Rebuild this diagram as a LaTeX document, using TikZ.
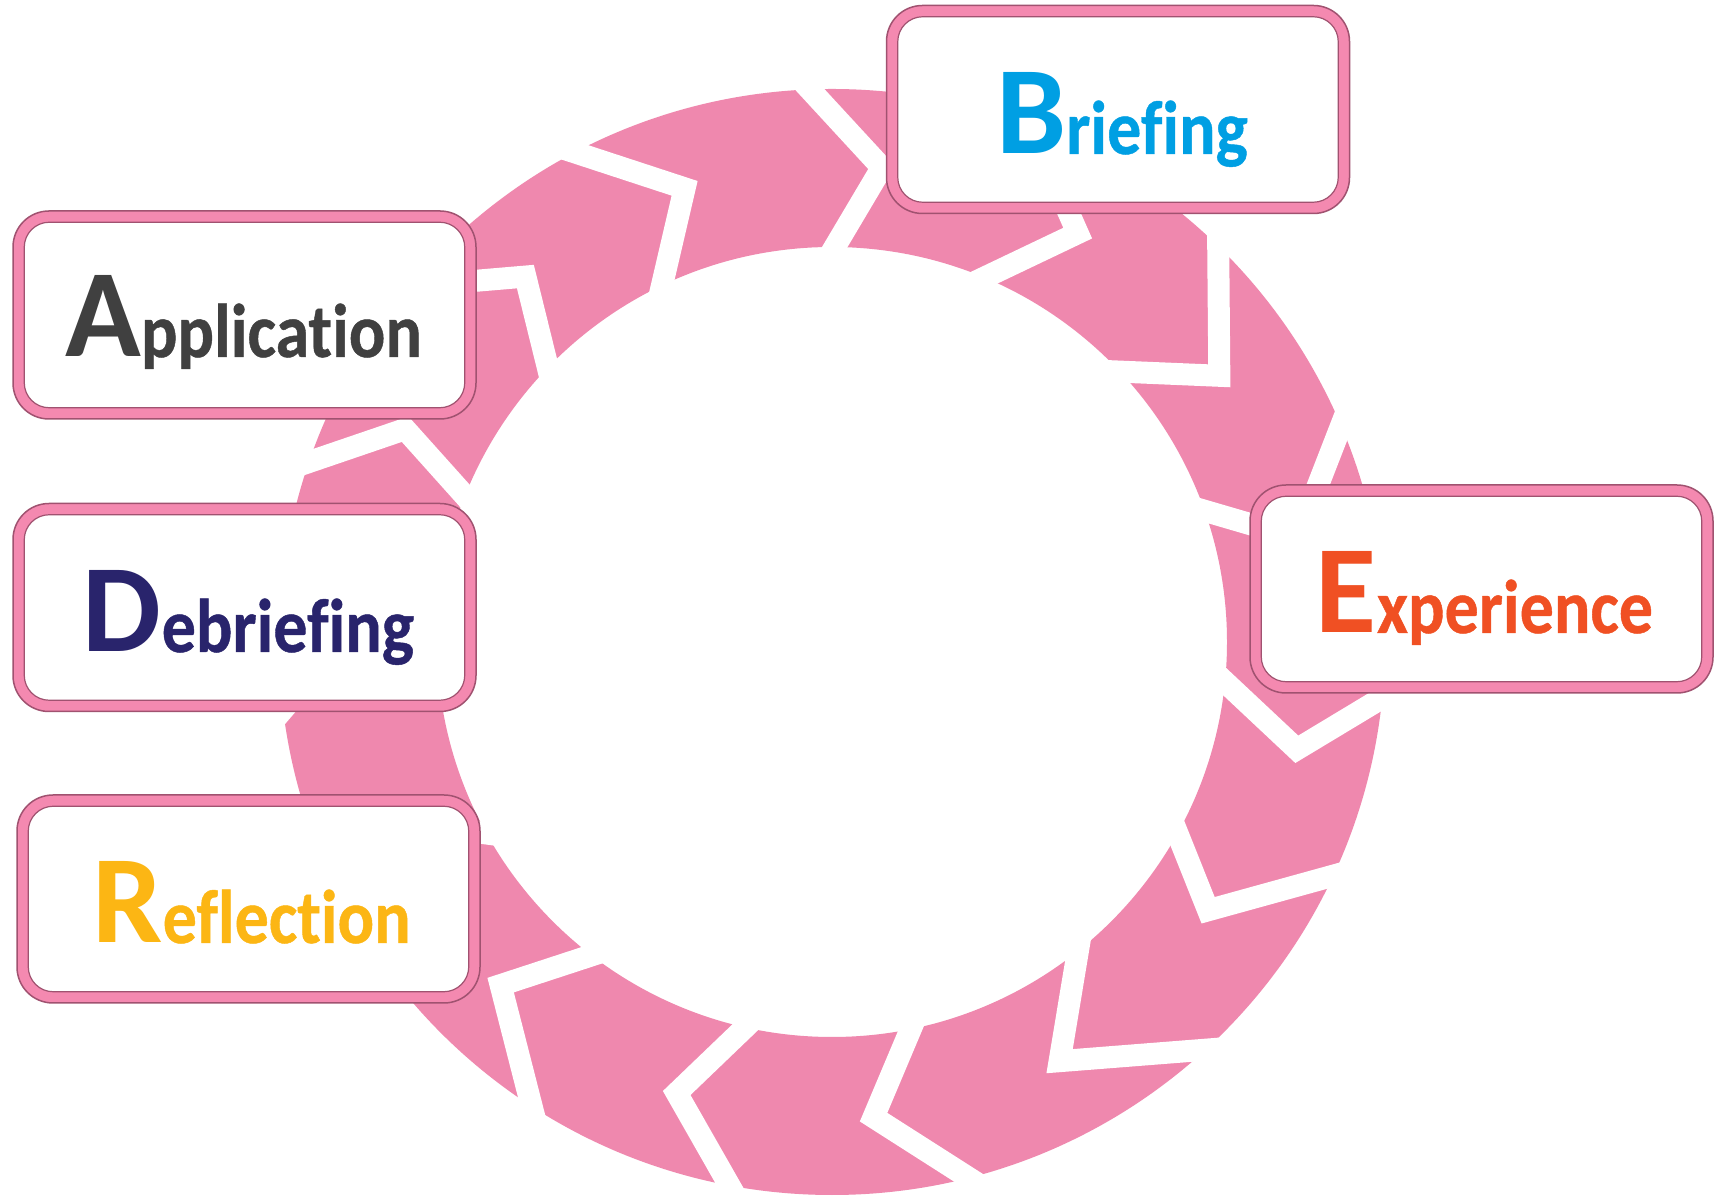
\documentclass[tikz,border=0pt]{standalone}
\usepackage{fontspec}
\setmainfont{Carlito}[Ligatures=NoCommon]
\newfontfamily\lowfont{Carlito}[Ligatures=NoCommon, BoldFeatures={FakeBold=0.6}]
\usetikzlibrary{calc}
\definecolor{ringpink}{RGB}{239,136,174}
\definecolor{boxpink}{RGB}{244,137,176}
\definecolor{boxline}{RGB}{160,82,112}
\definecolor{cBlue}{RGB}{0,159,227}
\definecolor{cGrey}{RGB}{64,64,64}
\definecolor{cNavy}{RGB}{41,36,108}
\definecolor{cOrange}{RGB}{240,80,35}
\definecolor{cAmber}{RGB}{252,182,20}
\newcommand{\BigL}[1]{{\fontsize{125}{125}\selectfont #1}}
\newcommand{\SmallL}[1]{\scalebox{1}[1.12]{\lowfont\bfseries\fontsize{68}{68}\selectfont #1}}
\begin{document}
\begin{tikzpicture}[x=1pt,y=1pt,
  stagebox/.style={rectangle, rounded corners=36, fill=boxpink, draw=boxline,
    line width=1.5, minimum width=463, minimum height=208, inner sep=0},
  innerbox/.style={rounded corners=25, fill=white, draw=boxline, line width=1.2},
  gapline/.style={white, line width=22, line join=miter, line cap=butt},
  label/.style={anchor=base, inner sep=0, font=\bfseries}]
\useasboundingbox (0,0) rectangle (1726,1199);
\fill[white] (0,0) rectangle (1726,1199);
\coordinate (c) at (832,557);
% ring
\fill[ringpink, even odd rule] (c) circle (553) (c) circle (395);
% chevron gaps: outer angle / tip angle / tip radius / inner angle
\foreach \o/\t/\r/\i in {161/153.5/477/158.3, 140/130/477/136, 117.7/108/477/115.5,
    92.3/84/477/89.6, 69/59/477/67.3, 45.7/34.5/470/43.2, 23/12.6/477/19.4,
    -5.8/-13/477/-5.8, -25/-35.5/462/-29, -47.5/-61.5/477/-51.5,
    -75.7/-85/477/-78.5, -100.7/-109/477/-102.7,
    -122.9/-134/477/-127.5, -148/-158/477/-151, -173/-182/477/-176} {
  \coordinate (gO) at ($(c)+(\o:553)$);
  \coordinate (gT) at ($(c)+(\t:\r)$);
  \coordinate (gI) at ($(c)+(\i:395)$);
  \draw[gapline] ($(gT)!1.35!(gO)$) -- (gT) -- ($(gT)!1.45!(gI)$);
}
% boxes
\node[stagebox] (brief) at (1118,1089.5) {};
\node[stagebox] (app) at (244.5,884) {};
\node[stagebox] (debrief) at (244.5,591.5) {};
\node[stagebox] (refl) at (248.5,300) {};
\node[stagebox] (exper) at (1481.5,610) {};
\foreach \b in {brief,app,debrief,refl,exper}
  \draw[innerbox] ([shift={(12,12)}]\b.south west) rectangle ([shift={(-12,-12)}]\b.north east);
% labels
\node[label, text=cBlue] (tbrief) at (1122,1045) {\BigL{B}\SmallL{riefing}};
\node[label, text=cGrey] (tapp) at (243.5,842) {\BigL{A}\SmallL{pplication}};
\node[label, text=cNavy] (tdebrief) at (248.5,547) {\BigL{D}\SmallL{ebriefing}};
\node[label, text=cAmber] (trefl) at (251.5,256) {\BigL{R}\SmallL{eflection}};
\node[label, text=cOrange] (texper) at (1484.5,566) {\BigL{E}\SmallL{xperience}};
\end{tikzpicture}
\end{document}
